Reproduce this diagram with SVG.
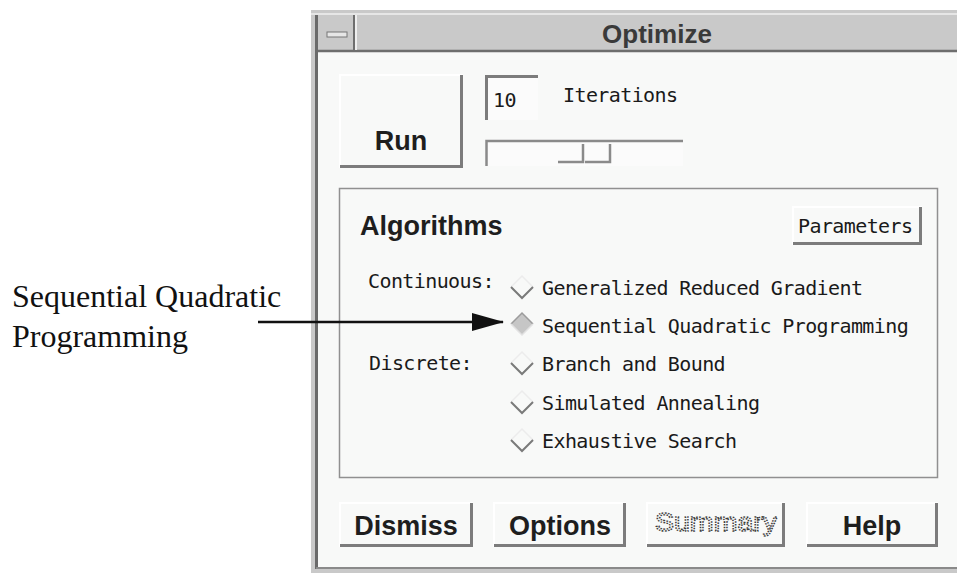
<svg xmlns="http://www.w3.org/2000/svg" width="957" height="573" viewBox="0 0 957 573">
  <style>
    .mono { font-family: "DejaVu Sans Mono", "Liberation Mono", monospace; font-size: 20px; letter-spacing: -0.6px; fill: #1a1a1a; }
    .bold { font-family: "Liberation Sans", Arial, sans-serif; font-weight: bold; font-size: 27px; fill: #1e1e1e; }
    .face { fill: #f8f9f8; }
    .hi { stroke: #ffffff; stroke-width: 2; fill: none; }
    .lo { stroke: #7c7c7c; stroke-width: 3; fill: none; }
    .sunk { stroke: #7c7c7c; stroke-width: 3; fill: none; }
    .v-on { stroke: #7a7a7a; stroke-width: 2; fill: none; }
    .v-off { stroke: #ececec; stroke-width: 1.5; fill: none; }
    .serif { font-family: "Liberation Serif", "Times New Roman", serif; font-size: 32px; fill: #111; }
    .stipple { font-family: "Liberation Sans", Arial, sans-serif; font-size: 26px; fill: none; stroke: #3c3c3c; stroke-width: 1.4; stroke-dasharray: 1.5 1.2; }
  </style>
  <defs>
    <marker id="head" viewBox="0 0 32 18" refX="31" refY="9" markerWidth="32" markerHeight="18" markerUnits="userSpaceOnUse" orient="auto">
      <path d="M0,0 L32,9 L0,18 Z" fill="#111"/>
    </marker>
  </defs>

  <rect width="957" height="573" fill="#ffffff"/>

  <!-- dialog window -->
  <g id="window">
    <rect x="311" y="10" width="646" height="563" fill="#c9c9c9"/>
    <rect x="318" y="52" width="639" height="515" class="face"/>
    <line x1="316.5" y1="15" x2="316.5" y2="569" stroke="#6a6a6a" stroke-width="3"/>
    <line x1="316" y1="568" x2="957" y2="568" stroke="#8a8a8a" stroke-width="2"/>
    <line x1="311" y1="14" x2="957" y2="14" stroke="#e6e6e6" stroke-width="2"/>
  </g>

  <!-- title bar -->
  <g id="title-bar">
    <rect x="318" y="15" width="639" height="35" fill="#c9c9c9"/>
    <line x1="318" y1="51" x2="957" y2="51" stroke="#6e6e6e" stroke-width="2.5"/>
    <line x1="354" y1="15" x2="354" y2="50" stroke="#6e6e6e" stroke-width="2"/>
    <line x1="356" y1="15" x2="356" y2="50" stroke="#eeeeee" stroke-width="2"/>
    <rect x="327" y="32" width="20" height="5" fill="#e6e6e6" stroke="#777" stroke-width="1"/>
    <text x="657" y="43" text-anchor="middle" font-family="Liberation Sans, Arial, sans-serif" font-weight="bold" font-size="26" fill="#3a3a3a">Optimize</text>
  </g>

  <!-- Run button -->
  <g id="run-button">
    <rect x="340" y="75" width="123" height="93" class="face"/>
    <path d="M340,168 V75 H463" class="hi"/>
    <path d="M461.5,75 V166.5 H340" class="lo"/>
    <text x="401" y="150" text-anchor="middle" class="bold">Run</text>
  </g>

  <!-- iterations field -->
  <g id="iterations-field">
    <rect x="485" y="75" width="53" height="45" fill="#fbfbfb"/>
    <path d="M486.5,120 V76.5 H538" class="sunk"/>
    <text x="493" y="107" class="mono">10</text>
    <text x="563" y="102" class="mono">Iterations</text>
  </g>

  <!-- iterations slider -->
  <g id="slider">
    <rect x="485" y="140" width="198" height="26" fill="#fbfbfb"/>
    <path d="M486.5,166 V141 H683" stroke="#8a8a8a" stroke-width="2.5" fill="none"/>
    <path d="M558,162 H583 V144 M585,162 H610 V144" stroke="#8a8a8a" stroke-width="2.5" fill="none"/>
  </g>

  <!-- algorithms frame -->
  <g id="algorithms-frame">
    <rect x="339.5" y="188.5" width="598" height="289" fill="none" stroke="#909090" stroke-width="1.5"/>
    <text x="360" y="235" class="bold">Algorithms</text>
  </g>

  <!-- Parameters button -->
  <g id="parameters-button">
    <rect x="793" y="207" width="129" height="38" class="face"/>
    <path d="M793,245 V207 H922" class="hi"/>
    <path d="M920.5,207 V243.5 H793" class="lo"/>
    <text x="798" y="233" class="mono">Parameters</text>
  </g>

  <!-- group labels -->
  <g id="category-labels">
    <text x="368" y="288" class="mono">Continuous:</text>
    <text x="369" y="370" class="mono">Discrete:</text>
  </g>

  <!-- radio options -->
  <g id="opt-grg">
    <path d="M511,287 L522,276 L533,287" class="v-off"/>
    <path d="M511,287 L522,298 L533,287" class="v-on"/>
    <text x="542" y="295" class="mono">Generalized Reduced Gradient</text>
  </g>
  <g id="opt-sqp">
    <path d="M511,324 L522,313 L533,324 L522,335 Z" fill="#c6c6c6"/>
    <path d="M511,324 L522,313 L533,324" stroke="#9c9c9c" stroke-width="1.5" fill="none"/>
    <path d="M511,324 L522,335 L533,324" stroke="#e2e2e2" stroke-width="1.5" fill="none"/>
    <text x="542" y="333" class="mono">Sequential Quadratic Programming</text>
  </g>
  <g id="opt-bb">
    <path d="M511,363 L522,352 L533,363" class="v-off"/>
    <path d="M511,363 L522,374 L533,363" class="v-on"/>
    <text x="542" y="371" class="mono">Branch and Bound</text>
  </g>
  <g id="opt-sa">
    <path d="M511,402 L522,391 L533,402" class="v-off"/>
    <path d="M511,402 L522,413 L533,402" class="v-on"/>
    <text x="542" y="410" class="mono">Simulated Annealing</text>
  </g>
  <g id="opt-es">
    <path d="M511,440 L522,429 L533,440" class="v-off"/>
    <path d="M511,440 L522,451 L533,440" class="v-on"/>
    <text x="542" y="448" class="mono">Exhaustive Search</text>
  </g>

  <!-- bottom buttons -->
  <g id="dismiss-button">
    <rect x="340" y="503" width="133" height="44" class="face"/>
    <path d="M340,547 V503 H473" class="hi"/>
    <path d="M471.5,503 V545.5 H340" class="lo"/>
    <text x="406" y="535" text-anchor="middle" class="bold">Dismiss</text>
  </g>
  <g id="options-button">
    <rect x="494" y="503" width="132" height="44" class="face"/>
    <path d="M494,547 V503 H626" class="hi"/>
    <path d="M624.5,503 V545.5 H494" class="lo"/>
    <text x="560" y="535" text-anchor="middle" class="bold">Options</text>
  </g>
  <g id="summary-button">
    <rect x="647" y="503" width="138" height="44" class="face"/>
    <path d="M647,547 V503 H785" class="hi"/>
    <path d="M783.5,503 V545.5 H647" class="lo"/>
    <text x="716" y="531" text-anchor="middle" class="stipple" textLength="122" lengthAdjust="spacingAndGlyphs">Summary</text>
  </g>
  <g id="help-button">
    <rect x="807" y="503" width="131" height="44" class="face"/>
    <path d="M807,547 V503 H938" class="hi"/>
    <path d="M936.5,503 V545.5 H807" class="lo"/>
    <text x="872" y="535" text-anchor="middle" class="bold">Help</text>
  </g>

  <!-- annotation -->
  <g id="annotation">
    <text x="12" y="307" class="serif">Sequential Quadratic</text>
    <text x="12" y="347" class="serif">Programming</text>
  </g>

  <g id="connectors">
    <line x1="258" y1="322" x2="503" y2="322" stroke="#111" stroke-width="2.5" marker-end="url(#head)"/>
  </g>
</svg>
